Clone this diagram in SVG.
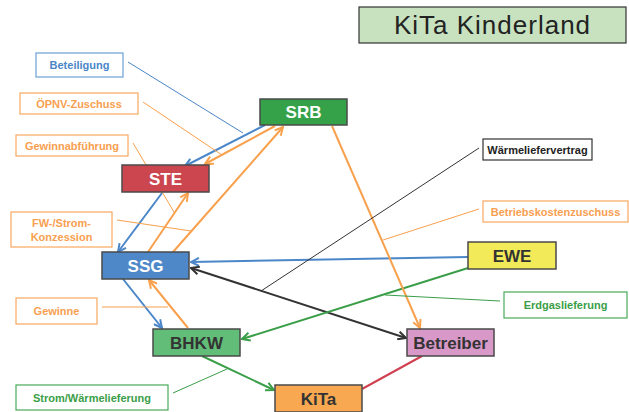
<svg xmlns="http://www.w3.org/2000/svg" width="629" height="412" viewBox="0 0 629 412">
<style>
.node rect{stroke:#4a4a4a;stroke-width:1.5}
.nt{font-family:"Liberation Sans",Arial,sans-serif;font-weight:bold;font-size:17px;text-anchor:middle}
.w{fill:#ffffff}.d{fill:#333333}
.lb rect{fill:#ffffff;stroke-width:1.2}
.lt{font-family:"Liberation Sans",Arial,sans-serif;font-weight:bold;font-size:11px;text-anchor:middle}
.c{fill:none;stroke-width:2}
.ld{fill:none;stroke-width:1}
.bl{stroke:#4a86c8}.or{stroke:#f8a04c}.gr{stroke:#3a9e48}.bk{stroke:#333333}.rd{stroke:#d04050}
</style>
<defs>
<marker id="ab" viewBox="0 0 10 10" refX="9" refY="5" markerWidth="10" markerHeight="10" markerUnits="userSpaceOnUse" orient="auto-start-reverse"><path d="M1,1 L9,5 L1,9" fill="none" stroke="#4a86c8" stroke-width="2"/></marker>
<marker id="ao" viewBox="0 0 10 10" refX="9" refY="5" markerWidth="10" markerHeight="10" markerUnits="userSpaceOnUse" orient="auto-start-reverse"><path d="M1,1 L9,5 L1,9" fill="none" stroke="#f8a04c" stroke-width="2"/></marker>
<marker id="ag" viewBox="0 0 10 10" refX="9" refY="5" markerWidth="10" markerHeight="10" markerUnits="userSpaceOnUse" orient="auto-start-reverse"><path d="M1,1 L9,5 L1,9" fill="none" stroke="#3a9e48" stroke-width="2"/></marker>
<marker id="ak" viewBox="0 0 10 10" refX="9" refY="5" markerWidth="10" markerHeight="10" markerUnits="userSpaceOnUse" orient="auto-start-reverse"><path d="M1,1 L9,5 L1,9" fill="none" stroke="#333333" stroke-width="2"/></marker>
</defs>
<rect width="629" height="412" fill="#ffffff"/>
<g id="title">
<rect x="359" y="7" width="267" height="36" fill="#c8e2c0" stroke="#333333" stroke-width="1.2"/>
<text x="492.5" y="34" font-family="'Liberation Sans',Arial,sans-serif" font-size="26" letter-spacing="1" text-anchor="middle" fill="#222222">KiTa Kinderland</text>
</g>
<g id="connectors">
<line class="c bl" x1="265" y1="125" x2="185" y2="166" marker-end="url(#ab)"/>
<line class="c or" x1="275" y1="126" x2="205" y2="164" marker-end="url(#ao)"/>
<line class="c or" x1="173" y1="252" x2="283" y2="127" marker-end="url(#ao)"/>
<line class="c or" x1="148" y1="252" x2="188" y2="193" marker-end="url(#ao)"/>
<line class="c bl" x1="162" y1="193" x2="118" y2="252" marker-end="url(#ab)"/>
<line class="c bl" x1="468" y1="257" x2="191" y2="262" marker-end="url(#ab)"/>
<line class="c bk" x1="191" y1="268" x2="406" y2="338" marker-start="url(#ak)" marker-end="url(#ak)"/>
<line class="c gr" x1="468" y1="268" x2="242" y2="339" marker-end="url(#ag)"/>
<line class="c bl" x1="123" y1="279" x2="162" y2="328" marker-end="url(#ab)"/>
<line class="c or" x1="188" y1="328" x2="149" y2="280" marker-end="url(#ao)"/>
<line class="c gr" x1="202" y1="356" x2="274" y2="390" marker-end="url(#ag)"/>
<line class="c rd" x1="422" y1="356" x2="362" y2="389"/>
<line class="c or" x1="332" y1="126" x2="420" y2="328" marker-end="url(#ao)"/>
<line class="ld bl" x1="128" y1="62" x2="243" y2="133"/>
<line class="ld or" x1="143" y1="102" x2="222" y2="155"/>
<line class="ld or" x1="133" y1="143" x2="174" y2="212"/>
<line class="ld or" x1="117" y1="220" x2="191" y2="231"/>
<line class="ld or" x1="102" y1="307" x2="168" y2="307"/>
<line class="ld gr" x1="173" y1="393" x2="227" y2="369"/>
<line class="ld bk" x1="479" y1="148" x2="261" y2="291"/>
<line class="ld or" x1="479" y1="209" x2="383" y2="240"/>
<line class="ld gr" x1="500" y1="301" x2="385" y2="295"/>
</g>
<g id="SRB" class="node"><rect x="260" y="99" width="87" height="26" fill="#35a24a"/><text class="nt w" x="303.5" y="118">SRB</text></g>
<g id="STE" class="node"><rect x="122" y="165" width="87" height="27" fill="#cc4650"/><text class="nt w" x="165.5" y="184.5">STE</text></g>
<g id="SSG" class="node"><rect x="102" y="252" width="87" height="27" fill="#4f88c8"/><text class="nt w" x="145.5" y="271.5">SSG</text></g>
<g id="BHKW" class="node"><rect x="153" y="329" width="87" height="27" fill="#62bd78"/><text class="nt d" x="196.5" y="348.5">BHKW</text></g>
<g id="KiTa" class="node"><rect x="275" y="385" width="87" height="27" fill="#f8a850"/><text class="nt d" x="318.5" y="404.5">KiTa</text></g>
<g id="Betreiber" class="node"><rect x="407" y="329" width="87" height="27" fill="#d898c8"/><text class="nt d" x="450.5" y="348.5">Betreiber</text></g>
<g id="EWE" class="node"><rect x="468" y="242" width="88" height="27" fill="#f2ea58"/><text class="nt d" x="512" y="261.5">EWE</text></g>
<g id="lbl-beteiligung" class="lb"><rect x="36" y="53" width="87" height="24" stroke="#6aa0d8"/><text class="lt" x="79.5" y="69" fill="#4a86c8">Beteiligung</text></g>
<g id="lbl-oepnv" class="lb"><rect x="20" y="93" width="118" height="21" stroke="#f8a860"/><text class="lt" x="79" y="107.5" fill="#f8a050">ÖPNV-Zuschuss</text></g>
<g id="lbl-gewinnabf" class="lb"><rect x="16" y="135" width="112" height="21" stroke="#f8a860"/><text class="lt" x="72" y="149.5" fill="#f8a050">Gewinnabführung</text></g>
<g id="lbl-konzession" class="lb"><rect x="11" y="212" width="101" height="35" stroke="#f8a860"/><text class="lt" x="61.5" y="226.5" fill="#f8a050">FW-/Strom-</text><text class="lt" x="61.5" y="240.5" fill="#f8a050">Konzession</text></g>
<g id="lbl-gewinne" class="lb"><rect x="16" y="298" width="81" height="26" stroke="#f8a860"/><text class="lt" x="56.5" y="315" fill="#f8a050">Gewinne</text></g>
<g id="lbl-stromwaerme" class="lb"><rect x="16" y="385" width="152" height="25" stroke="#4aaa58"/><text class="lt" x="92" y="401.5" fill="#3a9e48">Strom/Wärmelieferung</text></g>
<g id="lbl-waermevertrag" class="lb"><rect x="483" y="139" width="109" height="21" stroke="#333333" stroke-width="1"/><text class="lt" x="537.5" y="153.5" fill="#222222" font-size="10.5">Wärmeliefervertrag</text></g>
<g id="lbl-betriebskosten" class="lb"><rect x="483" y="201" width="145" height="21" stroke="#f8a860"/><text class="lt" x="555.5" y="215.5" fill="#f8a050">Betriebskostenzuschuss</text></g>
<g id="lbl-erdgas" class="lb"><rect x="504" y="292" width="123" height="26" stroke="#4aaa58"/><text class="lt" x="565.5" y="309" fill="#3a9e48">Erdgaslieferung</text></g>
</svg>
